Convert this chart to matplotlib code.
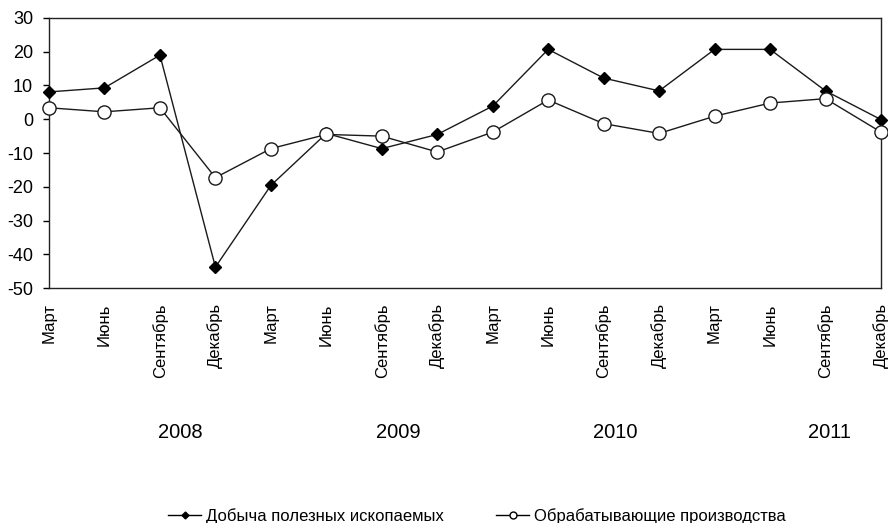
import matplotlib
matplotlib.use("Agg")
import matplotlib.pyplot as plt
from matplotlib.lines import Line2D
from matplotlib.transforms import blended_transform_factory

months = ["Март", "Июнь", "Сентябрь", "Декабрь"] * 4
years = ["2008", "2009", "2010", "2011"]
mining = [8.1, 9.3, 19.0, -43.8, -19.6, -4.2, -8.7, -4.5, 3.9, 20.7, 12.2, 8.4, 20.7, 20.7, 8.4, -0.1]
manuf = [3.4, 2.2, 3.4, -17.3, -8.7, -4.5, -5.0, -9.7, -3.8, 5.7, -1.3, -4.2, 0.9, 4.8, 6.1, -3.8]
series_names = ["Добыча полезных ископаемых", "Обрабатывающие производства"]
yticks = list(range(-50, 31, 10))

plt.rcParams['font.family'] = ['Liberation Sans', 'DejaVu Sans']

fig = plt.figure(figsize=(8.88, 5.23), dpi=100)
ax = fig.add_axes([0.0552, 0.4493, 0.9369, 0.5163])
x = list(range(len(months)))

ax.plot(x, mining, color='#1a1a1a', lw=1.0, marker='D', ms=6.5,
        mfc='black', mec='black', zorder=3, clip_on=False)
ax.plot(x, manuf, color='#1a1a1a', lw=1.0, marker='o', ms=9.5,
        mfc='white', mec='#1a1a1a', mew=1.0, zorder=4, clip_on=False)

ax.set_xlim(0, len(months) - 1)
ax.set_ylim(-50, 30)
ax.set_yticks(yticks)
ax.set_yticklabels([str(v) for v in yticks], fontsize=13)
ax.set_xticks(x)
ax.set_xticklabels(months, rotation=90, fontsize=12, va='top')
ax.tick_params(axis='x', length=0, pad=11)
ax.tick_params(axis='y', length=4.5, width=1, pad=7, direction='out')
for s in ax.spines.values():
    s.set_linewidth(1.0)
    s.set_color('#222222')

trans = blended_transform_factory(ax.transData, fig.transFigure)
year_pos = [2.36, 6.29, 10.2, 14.08]
for yp, yl in zip(year_pos, years):
    ax.text(yp, 1 - 433 / 523, yl, transform=trans, ha='center', va='center',
            fontsize=14.5)

handles = [
    Line2D([], [], color='black', lw=1.0, marker='D', ms=3.5, mfc='black', mec='black'),
    Line2D([], [], color='black', lw=1.0, marker='o', ms=5, mfc='white', mec='black'),
]
fig.legend(handles, series_names, loc='center left',
           bbox_to_anchor=(168 / 888, 1 - 516 / 523),
           ncol=2, frameon=False, fontsize=12, handlelength=2.0, handletextpad=0.3,
           columnspacing=3.1, borderpad=0, borderaxespad=0)

fig.savefig("out.png", dpi=100)
